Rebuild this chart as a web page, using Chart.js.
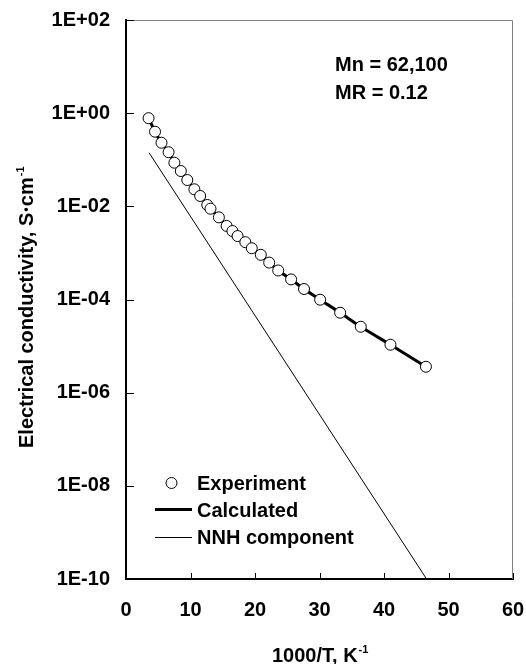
<!DOCTYPE html>
<html>
<head>
<meta charset="utf-8">
<script src="https://cdn.jsdelivr.net/npm/chart.js@4/dist/chart.umd.min.js"></script>
<style>
  html, body { margin: 0; padding: 0; background: #fff; }
  #wrap { width: 526px; height: 664px; position: relative; }
</style>
</head>
<body>
<div id="wrap"><canvas id="c" width="526" height="664"></canvas></div>
<script>
// ---- data ----
const expX = [3.5, 4.5, 5.5, 6.6, 7.5, 8.5, 9.5, 10.6, 11.5, 12.6, 13.1, 14.4, 15.6, 16.5, 17.3, 18.5, 19.5, 20.9, 22.2, 23.6, 25.6, 27.6, 30.1, 33.2, 36.4, 41.0, 46.5];
const expY = [0.78, 0.40, 0.232, 0.145, 0.0865, 0.0573, 0.0367, 0.0232, 0.0167, 0.0107, 0.0089, 0.0058, 0.0038, 0.00295, 0.0023, 0.0017, 0.00126, 0.00091, 0.00062, 0.00042, 0.00027, 0.000168, 9.9e-5, 5.2e-5, 2.6e-5, 1.07e-5, 3.6e-6];
const calcX = [3.5, 4.5, 5.5, 6.6, 7.5, 8.5, 9.5, 10.6, 11.5, 12.6, 13.1, 14.4, 15.6, 16.5, 17.3, 18.5, 19.5, 20.9, 22.2, 23.6, 25.6, 27.6, 30.1, 33.2, 36.4, 41.0, 46.5];
const calcY = [0.78, 0.40, 0.232, 0.145, 0.0865, 0.0573, 0.0367, 0.0232, 0.0167, 0.0107, 0.0089, 0.0058, 0.0038, 0.00295, 0.0023, 0.0017, 0.00126, 0.00091, 0.00062, 0.00042, 0.00027, 0.000168, 9.9e-5, 5.2e-5, 2.6e-5, 1.07e-5, 3.6e-6];
const nnhX = [3.57, 46.6];
const nnhY = [0.1416, 1e-10];

const xTickValues = [0, 10, 20, 30, 40, 50, 60];
const yTickValues = [1e-10, 1e-8, 1e-6, 1e-4, 1e-2, 1e0, 1e2];
const yTickLabels = ['1E-10', '1E-08', '1E-06', '1E-04', '1E-02', '1E+00', '1E+02'];

const seriesNames = ['Experiment', 'Calculated', 'NNH component'];
const noteLines = ['Mn = 62,100', 'MR = 0.12'];
const xTitle = '1000/T, K';
const yTitle = 'Electrical conductivity, S';

const toPts = (xs, ys) => xs.map((x, i) => ({ x: x, y: ys[i] }));
const FONT = '"Liberation Sans", Arial, sans-serif';

const decor = {
  id: 'decor',
  beforeDatasetsDraw(chart) {
    const { ctx, chartArea: a, scales } = chart;
    ctx.save();
    // grey plot-area frame (top and right)
    ctx.strokeStyle = '#808080';
    ctx.lineWidth = 1;
    ctx.beginPath();
    ctx.moveTo(a.left, a.top + 0.5);
    ctx.lineTo(a.right - 0.5, a.top + 0.5);
    ctx.lineTo(a.right - 0.5, a.bottom);
    ctx.stroke();
    // inward tick marks
    ctx.strokeStyle = '#000';
    ctx.lineWidth = 1;
    ctx.beginPath();
    yTickValues.forEach(v => {
      const y = Math.round(scales.y.getPixelForValue(v)) + 0.5;
      ctx.moveTo(a.left, y); ctx.lineTo(a.left + 8, y);
    });
    xTickValues.forEach(v => {
      const x = Math.round(scales.x.getPixelForValue(v)) + 0.5;
      ctx.moveTo(x, a.bottom); ctx.lineTo(x, a.bottom - 6);
    });
    ctx.stroke();
    ctx.restore();
  },
  afterDraw(chart) {
    const { ctx } = chart;
    ctx.save();
    ctx.fillStyle = '#000';
    ctx.textBaseline = 'alphabetic';
    ctx.textAlign = 'left';
    // x title with superscript
    ctx.font = 'bold 20px ' + FONT;
    let x0 = 272, base = 661.5;
    ctx.fillText(xTitle, x0, base);
    let w = ctx.measureText(xTitle).width;
    ctx.font = 'bold 11px ' + FONT;
    ctx.fillText('-1', x0 + w + 1, base - 9);
    // y title rotated
    ctx.save();
    ctx.translate(33, 448);
    ctx.rotate(-Math.PI / 2);
    ctx.font = 'bold 20px ' + FONT;
    ctx.fillText(yTitle, 0, 0);
    let p = ctx.measureText(yTitle).width;
    ctx.font = 'bold 13px ' + FONT;
    ctx.fillText('\u2022', p + 1, -3);
    p += ctx.measureText('\u2022').width + 2;
    ctx.font = 'bold 20px ' + FONT;
    ctx.fillText('cm', p, 0);
    p += ctx.measureText('cm').width;
    ctx.font = 'bold 11px ' + FONT;
    ctx.fillText('-1', p + 1, -9);
    ctx.restore();
    // annotation
    ctx.font = 'bold 20px ' + FONT;
    ctx.fillText(noteLines[0], 335, 70.5);
    ctx.fillText(noteLines[1], 335, 98.5);
    // legend
    ctx.beginPath();
    ctx.arc(171.5, 483, 5.5, 0, Math.PI * 2);
    ctx.fillStyle = '#fff'; ctx.fill();
    ctx.strokeStyle = '#000'; ctx.lineWidth = 1; ctx.stroke();
    ctx.fillStyle = '#000';
    ctx.lineWidth = 3;
    ctx.beginPath(); ctx.moveTo(155, 509.5); ctx.lineTo(192, 509.5); ctx.stroke();
    ctx.lineWidth = 1;
    ctx.beginPath(); ctx.moveTo(155, 537.5); ctx.lineTo(192, 537.5); ctx.stroke();
    ctx.font = 'bold 20px ' + FONT;
    ctx.fillText(seriesNames[0], 197, 489.5);
    ctx.fillText(seriesNames[1], 197, 517);
    ctx.fillText(seriesNames[2], 197, 544);
    ctx.restore();
  }
};

new Chart(document.getElementById('c'), {
  type: 'scatter',
  data: {
    datasets: [
      { label: seriesNames[0], data: toPts(expX, expY), showLine: false,
        pointStyle: 'circle', pointRadius: 5.5, pointHoverRadius: 5.5,
        pointBackgroundColor: '#fff', pointBorderColor: '#000', pointBorderWidth: 1 },
      { label: seriesNames[1], data: toPts(calcX, calcY), showLine: true,
        borderColor: '#000', borderWidth: 3, pointRadius: 0, tension: 0.3 },
      { label: seriesNames[2], data: toPts(nnhX, nnhY), showLine: true,
        borderColor: '#000', borderWidth: 1, pointRadius: 0 }
    ]
  },
  options: {
    responsive: false,
    animation: false,
    events: [],
    layout: { padding: { left: 0, right: 13, top: 20, bottom: 0 } },
    plugins: { legend: { display: false }, tooltip: { enabled: false } },
    scales: {
      x: {
        type: 'linear', min: 0, max: 60,
        afterBuildTicks: s => { s.ticks = xTickValues.map(v => ({ value: v })); },
        afterFit: s => { s.height = 85; },
        grid: { display: true, drawOnChartArea: false, drawTicks: true, tickLength: 19, color: 'rgba(0,0,0,0)' },
        border: { display: true, color: '#000', width: 2 },
        ticks: { padding: 0, color: '#000', autoSkip: false, maxRotation: 0,
          font: { family: FONT, size: 20, weight: 'bold' } }
      },
      y: {
        type: 'logarithmic', min: 1e-10, max: 1e2,
        afterBuildTicks: s => { s.ticks = yTickValues.map(v => ({ value: v })); },
        afterFit: s => { s.width = 126; },
        grid: { display: true, drawOnChartArea: false, drawTicks: true, tickLength: 16, color: 'rgba(0,0,0,0)' },
        border: { display: true, color: '#000', width: 2 },
        ticks: { padding: 0, color: '#000', autoSkip: false,
          font: { family: FONT, size: 20, weight: 'bold' },
          callback: v => {
            const i = yTickValues.findIndex(t => Math.abs(Math.log10(t) - Math.log10(v)) < 1e-6);
            return i >= 0 ? yTickLabels[i] : '';
          } }
      }
    }
  },
  plugins: [decor]
});
</script>
</body>
</html>
